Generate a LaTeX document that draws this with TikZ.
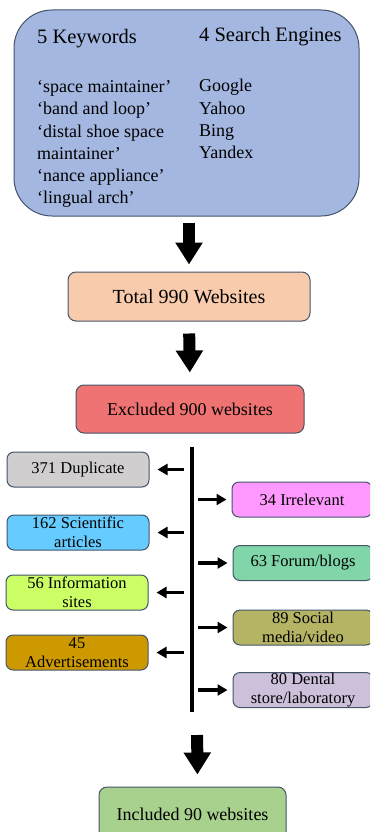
\documentclass[tikz,border=0pt]{standalone}
\usepackage{fontspec}
\setmainfont{Liberation Serif}
\usetikzlibrary{positioning}
\usetikzlibrary{arrows.meta}
\definecolor{edge}{HTML}{44546A}
\definecolor{topblue}{RGB}{164,183,225}
\definecolor{totalpeach}{HTML}{F8CBAD}
\definecolor{exclred}{RGB}{240,115,115}
\definecolor{dupgray}{HTML}{D0CECE}
\definecolor{scicyan}{HTML}{66CCFF}
\definecolor{infolime}{HTML}{CCFF66}
\definecolor{adsgold}{HTML}{CC9900}
\definecolor{irrpink}{HTML}{FF99FF}
\definecolor{forumgreen}{RGB}{128,214,168}
\definecolor{socialolive}{RGB}{180,180,100}
\definecolor{dentallilac}{HTML}{CCC0DA}
\definecolor{inclgreen}{HTML}{A9D18E}
\tikzset{box/.style={draw=edge,line width=1pt,rounded corners=7pt,minimum height=35pt,inner sep=0pt,align=center,font=\fontsize{16.5}{19.5}\selectfont},
	leftbox/.style={box,minimum width=142pt},rightbox/.style={box,minimum width=140pt},
	mainbox/.style={draw=edge,line width=1pt,rounded corners=8pt,inner sep=0pt,font=\fontsize{18}{22}\selectfont},
	bigarrow/.style={line width=12pt,-{Triangle[length=22pt,width=26pt]}},
	sidearrow/.style={line width=3.5pt,-{Triangle[length=10pt,width=11pt]}},
	kw/.style={anchor=base west,inner sep=0pt,font=\fontsize{18}{22}\selectfont}}

\begin{document}
\begin{tikzpicture}[x=1pt,y=-1pt]
	\clip (0,0) rectangle (370,832);
	% search box
	\node[draw=edge,line width=1pt,fill=topblue,rounded corners=38pt,minimum width=345pt,minimum height=206pt] (top) at (186.5,113) {};
	\node[kw,font=\fontsize{20.5}{24}\selectfont] (kwhead) at (37,44) {5 Keywords}; \node[kw,font=\fontsize{20.5}{24}\selectfont] (sehead) at (199,42) {4 Search Engines};
	\foreach \t [count=\i] in {‘space maintainer’,‘band and loop’,‘distal shoe space,maintainer’,‘nance appliance’,‘lingual arch’}
		\node[kw] (kw\i) at (37,71+22*\i) {\t};
	\foreach \t [count=\i] in {Google,Yahoo,Bing,Yandex}
		\node[kw] (se\i) at (199,70+22*\i) {\t};
	% main flow
	\node[mainbox,fill=totalpeach,minimum width=242pt,minimum height=49pt,font=\fontsize{20}{24}\selectfont] (total) at (189,296.5) {Total 990 Websites};
	\node[mainbox,fill=exclred,minimum width=228pt,minimum height=48pt] (excl) at (190,409) {Excluded 900 websites};
	\draw[bigarrow,shorten <=6pt,shorten >=7pt] (top.south -| total) -- (total.north);
	\draw[bigarrow,shorten <=12pt,shorten >=12pt] (total.south) -- (excl.north);
	% exclusion reasons
	\coordinate (spinetop) at (192,447); \coordinate (spinebot) at (192,712);
	\draw[line width=3.3pt] (spinetop) -- (spinebot);
	\node[leftbox,fill=dupgray] (dup) at (78,469.5) {371 Duplicate};
	\node[leftbox,fill=scicyan] (sci) at (78,532.5) {162 Scientific\\articles};
	\node[leftbox,fill=infolime] (info) at (77,592.5) {56 Information\\sites};
	\node[leftbox,fill=adsgold] (ads) at (77,652.5) {45\\Advertisements};
	\node[rightbox,fill=irrpink] (irr) at (302,499.5) {34 Irrelevant};
	\node[rightbox,fill=forumgreen] (forum) at (303,563) {63 Forum/blogs};
	\node[rightbox,fill=socialolive] (social) at (303,627.5) {89 Social\\media/video};
	\node[rightbox,fill=dentallilac] (dental) at (303,690) {80 Dental\\store/laboratory};
	\foreach \n in {dup,sci,info,ads}
		\draw[sidearrow,shorten <=8pt,shorten >=8pt] (spinetop |- \n) -- (\n.east);
	\foreach \n in {irr,forum,social,dental}
		\draw[sidearrow,shorten <=6pt,shorten >=5pt] (spinetop |- \n) -- (\n.west);
	% result
	\node[mainbox,fill=inclgreen,minimum width=187pt,minimum height=54pt] (incl) at (192.5,814) {Included 90 websites};
	\draw[bigarrow,shorten <=23pt,shorten >=12pt] ([xshift=5pt]spinebot) -- ([xshift=5pt]incl.north);
\end{tikzpicture}
\end{document}
